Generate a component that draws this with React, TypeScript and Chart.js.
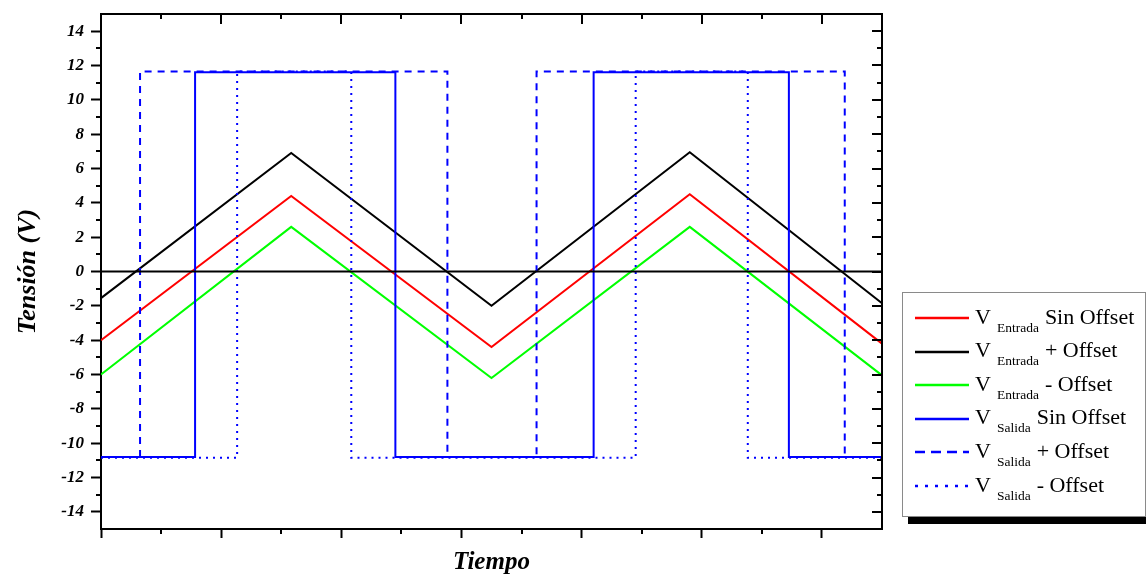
import React, { useEffect, useRef } from "react";
import { Chart, registerables } from "chart.js";

Chart.register(...registerables);

// ---- data (time in divisions, voltage in V) ----
const inputTimes = [0, 1.583, 3.25, 4.9, 6.5];
const vEntradaSin = [-4.0, 4.4, -4.4, 4.5, -4.2];
const vEntradaPlus = [-1.55, 6.9, -2.0, 6.95, -1.85];
const vEntradaMinus = [-6.0, 2.6, -6.2, 2.6, -6.05];

const salidaSinTimes = [0, 0.783, 0.783, 2.45, 2.45, 4.1, 4.1, 5.725, 5.725, 6.5];
const salidaSinValues = [-10.8, -10.8, 11.6, 11.6, -10.8, -10.8, 11.6, 11.6, -10.8, -10.8];

const salidaPlusTimes = [0, 0.325, 0.325, 2.883, 2.883, 3.625, 3.625, 6.19, 6.19, 6.5];
const salidaPlusValues = [-10.8, -10.8, 11.65, 11.65, -10.8, -10.8, 11.65, 11.65, -10.8, -10.8];

const salidaMinusTimes = [0, 1.133, 1.133, 2.083, 2.083, 4.45, 4.45, 5.383, 5.383, 6.5];
const salidaMinusValues = [-10.85, -10.85, 11.65, 11.65, -10.85, -10.85, 11.65, 11.65, -10.85, -10.85];

const zeroTimes = [0, 6.5];
const zeroValues = [0, 0];

const yTicks = [-14, -12, -10, -8, -6, -4, -2, 0, 2, 4, 6, 8, 10, 12, 14];
const yMinorTicks = [-13, -11, -9, -7, -5, -3, -1, 1, 3, 5, 7, 9, 11, 13];
const xTicks = [0, 1, 2, 3, 4, 5, 6];
const xMinorTicks = [0.5, 1.5, 2.5, 3.5, 4.5, 5.5];

const xTitle = "Tiempo";
const yTitle = "Tensión (V)";

const legendItems = [
  { main: "V", sub: "Entrada", rest: "Sin Offset", color: "#ff0000", dash: "" },
  { main: "V", sub: "Entrada", rest: "+ Offset", color: "#000000", dash: "" },
  { main: "V", sub: "Entrada", rest: "- Offset", color: "#00ff00", dash: "" },
  { main: "V", sub: "Salida", rest: "Sin Offset", color: "#0000ff", dash: "" },
  { main: "V", sub: "Salida", rest: "+ Offset", color: "#0000ff", dash: "10 6" },
  { main: "V", sub: "Salida", rest: "- Offset", color: "#0000ff", dash: "3 7" },
];

const pts = (xs: number[], ys: number[]) => xs.map((x, i) => ({ x, y: ys[i] }));

const framePlugin = {
  id: "frameTicks",
  afterDraw(chart: any) {
    const { ctx, chartArea } = chart;
    const xs = chart.scales.x;
    const ys = chart.scales.y;
    const { left, right, top, bottom } = chartArea;
    ctx.save();
    ctx.strokeStyle = "#000";
    ctx.lineWidth = 2;
    ctx.beginPath();
    ctx.moveTo(left - 1, top);
    ctx.lineTo(right, top);
    ctx.lineTo(right, bottom + 1);
    ctx.stroke();
    ctx.beginPath();
    yMinorTicks.forEach((v) => {
      const p = Math.round(ys.getPixelForValue(v));
      ctx.moveTo(left - 5, p);
      ctx.lineTo(left, p);
    });
    xMinorTicks.forEach((v) => {
      const p = Math.round(xs.getPixelForValue(v));
      ctx.moveTo(p, bottom);
      ctx.lineTo(p, bottom + 5);
    });
    yTicks.forEach((v) => {
      const p = Math.round(ys.getPixelForValue(v));
      ctx.moveTo(right - 10, p);
      ctx.lineTo(right, p);
    });
    yMinorTicks.forEach((v) => {
      const p = Math.round(ys.getPixelForValue(v));
      ctx.moveTo(right - 5, p);
      ctx.lineTo(right, p);
    });
    xTicks.forEach((v) => {
      const p = Math.round(xs.getPixelForValue(v));
      ctx.moveTo(p, top);
      ctx.lineTo(p, top + 10);
    });
    xMinorTicks.forEach((v) => {
      const p = Math.round(xs.getPixelForValue(v));
      ctx.moveTo(p, top);
      ctx.lineTo(p, top + 5);
    });
    ctx.stroke();
    ctx.restore();
  },
};

export default function App() {
  const canvasRef = useRef<HTMLCanvasElement | null>(null);

  useEffect(() => {
    const canvas = canvasRef.current;
    if (!canvas) return;
    const base = {
      pointRadius: 0,
      pointHoverRadius: 0,
      fill: false,
      tension: 0,
    };
    const chart = new Chart(canvas, {
      type: "line",
      data: {
        datasets: [
          { ...base, label: "zero", data: pts(zeroTimes, zeroValues), borderColor: "#000", borderWidth: 2 },
          { ...base, label: "Vsalida sin", data: pts(salidaSinTimes, salidaSinValues), borderColor: "#0000ff", borderWidth: 2 },
          { ...base, label: "Vsalida +", data: pts(salidaPlusTimes, salidaPlusValues), borderColor: "#0000ff", borderWidth: 2, borderDash: [7, 6] },
          { ...base, label: "Vsalida -", data: pts(salidaMinusTimes, salidaMinusValues), borderColor: "#0000ff", borderWidth: 2, borderDash: [2, 5] },
          { ...base, label: "Ventrada -", data: pts(inputTimes, vEntradaMinus), borderColor: "#00ff00", borderWidth: 2 },
          { ...base, label: "Ventrada +", data: pts(inputTimes, vEntradaPlus), borderColor: "#000000", borderWidth: 2 },
          { ...base, label: "Ventrada sin", data: pts(inputTimes, vEntradaSin), borderColor: "#ff0000", borderWidth: 2 },
        ],
      },
      options: {
        animation: false,
        responsive: false,
        events: [],
        layout: { padding: { left: 0, top: 14, right: 264, bottom: 0 } },
        plugins: { legend: { display: false }, tooltip: { enabled: false } },
        scales: {
          x: {
            type: "linear",
            min: 0,
            max: 6.5,
            afterFit: (s: any) => {
              s.height = 47;
              s.paddingLeft = 0;
              s.paddingRight = 0;
            },
            afterBuildTicks: (s: any) => {
              s.ticks = xTicks.map((v) => ({ value: v }));
            },
            ticks: { display: false },
            grid: {
              display: true,
              drawOnChartArea: false,
              drawTicks: true,
              tickLength: 9,
              tickColor: "#000",
              tickWidth: 2,
            },
            border: { display: true, color: "#000", width: 2 },
            title: {
              display: true,
              text: xTitle,
              color: "#000",
              font: { family: "'Liberation Serif', serif", size: 25, weight: "bold", style: "italic", lineHeight: 1 },
              padding: { top: 0, bottom: 1 },
            },
          },
          y: {
            type: "linear",
            min: -15,
            max: 15,
            afterFit: (s: any) => {
              s.width = 101;
              s.paddingTop = 0;
              s.paddingBottom = 0;
            },
            afterBuildTicks: (s: any) => {
              s.ticks = yTicks.map((v) => ({ value: v }));
            },
            ticks: {
              color: "#000",
              padding: 7,
              font: { family: "'Liberation Serif', serif", size: 17, weight: "bold", style: "italic" },
            },
            grid: {
              display: true,
              drawOnChartArea: false,
              drawTicks: true,
              tickLength: 10,
              tickColor: "#000",
              tickWidth: 2,
            },
            border: { display: true, color: "#000", width: 2 },
            title: {
              display: true,
              text: yTitle,
              color: "#000",
              font: { family: "'Liberation Serif', serif", size: 26, weight: "bold", style: "italic", lineHeight: 1 },
              padding: { top: 15, bottom: 0 },
            },
          },
        },
      },
      plugins: [framePlugin],
    } as any);
    return () => chart.destroy();
  }, []);

  return (
    <div
      style={{
        position: "fixed",
        left: 0,
        top: 0,
        width: 1146,
        height: 576,
        background: "#fff",
        overflow: "hidden",
      }}
    >
      <canvas ref={canvasRef} width={1146} height={576} style={{ display: "block", width: 1146, height: 576 }} />
      <div
        style={{
          position: "absolute",
          left: 902,
          top: 292,
          width: 242,
          height: 223,
          border: "1px solid #8a8a8a",
          background: "#fff",
          boxShadow: "6px 7px 0 #000",
        }}
      />
      {legendItems.map((it, i) => (
        <div
          key={i}
          style={{
            position: "absolute",
            left: 915,
            top: 318 + i * 33.6 - 12,
            height: 24,
            display: "flex",
            alignItems: "center",
            whiteSpace: "nowrap",
            fontFamily: "'Liberation Serif', serif",
            color: "#000",
          }}
        >
          <svg width={54} height={6} style={{ display: "block" }}>
            <line
              x1={0}
              y1={3}
              x2={54}
              y2={3}
              stroke={it.color}
              strokeWidth={2.5}
              strokeDasharray={it.dash || undefined}
            />
          </svg>
          <span style={{ fontSize: 22, lineHeight: "24px", marginLeft: 6 }}>
            {it.main}
            <span style={{ fontSize: 13.5, position: "relative", top: 8, marginLeft: 6, marginRight: 6 }}>{it.sub}</span>
            {it.rest}
          </span>
        </div>
      ))}
    </div>
  );
}
